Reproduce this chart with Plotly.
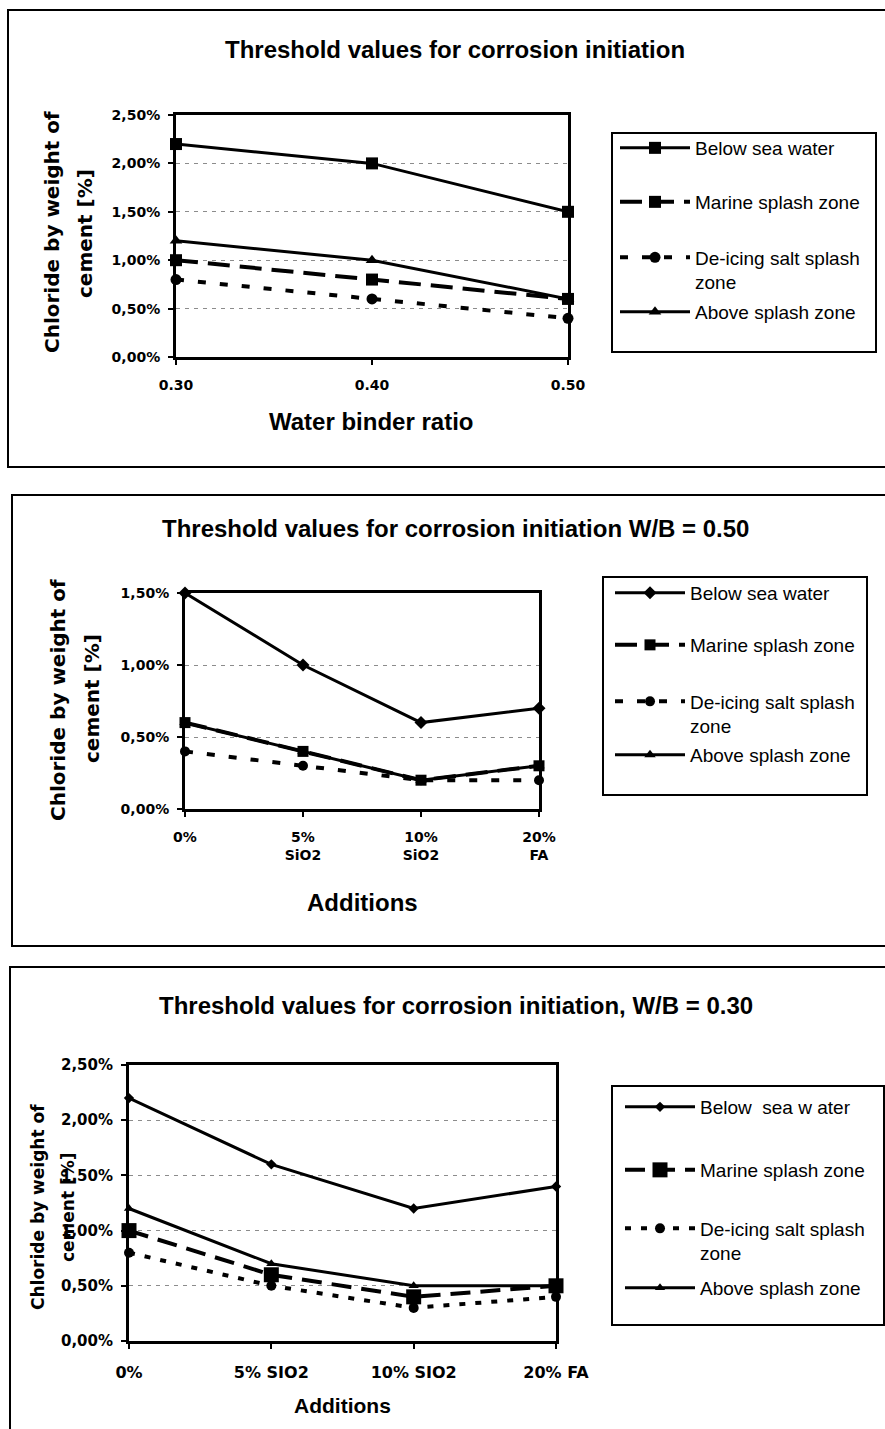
import plotly.graph_objects as go

W, H = 885, 1429


def px(x):
    return x / W


def py(y):
    return 1 - y / H


# ---------------- data (chloride threshold, fraction of cement weight) ----------------
series_names = ["Below sea water", "Marine splash zone",
                "De-icing salt splash<br>zone", "Above splash zone"]
series_names_p3 = ["Below  sea w ater", "Marine splash zone",
                   "De-icing salt splash<br>zone", "Above splash zone"]

wb_ratio = ["0.30", "0.40", "0.50"]
p1_below = [0.022, 0.020, 0.015]
p1_marine = [0.010, 0.008, 0.006]
p1_deicing = [0.008, 0.006, 0.004]
p1_above = [0.012, 0.010, 0.006]

additions_p2 = ["0%", "5%<br>SiO2", "10%<br>SiO2", "20%<br>FA"]
p2_below = [0.015, 0.010, 0.006, 0.007]
p2_marine = [0.006, 0.004, 0.002, 0.003]
p2_deicing = [0.004, 0.003, 0.002, 0.002]
p2_above = [0.006, 0.004, 0.002, 0.003]

additions_p3 = ["0%", "5% SIO2", "10% SIO2", "20% FA"]
p3_below = [0.022, 0.016, 0.012, 0.014]
p3_marine = [0.010, 0.006, 0.004, 0.005]
p3_deicing = [0.008, 0.005, 0.003, 0.004]
p3_above = [0.012, 0.007, 0.005, 0.005]

yticks_p1 = [0, 0.005, 0.010, 0.015, 0.020, 0.025]
yticks_p2 = [0, 0.005, 0.010, 0.015]
yticks_p3 = [0, 0.005, 0.010, 0.015, 0.020, 0.025]

titles = ["Threshold values for corrosion initiation",
          "Threshold values for corrosion initiation W/B = 0.50",
          "Threshold values for corrosion initiation, W/B = 0.30"]
x_titles = ["Water binder ratio", "Additions", "Additions"]
y_title_lines = ["Chloride by weight of", "cement [%]"]

# ---------------- styling ----------------
ARIAL = "Liberation Sans, Arial, sans-serif"
DEJAVU = "DejaVu Sans, Verdana, sans-serif"
LEG_ITEM_W = 70

panels = [
    dict(x=wb_ratio, ys=[p1_below, p1_marine, p1_deicing, p1_above], names=series_names,
         yticks=yticks_p1, yrange=[0, 0.025],
         plot=(176, 568, 115, 357),
         symbols=["square", "square", "circle", "triangle-up"], sizes=[12, 12, 11, 11],
         dashes=["solid", "22px,10px", "8px,14px", "solid"], widths=[3, 4, 4, 3],
         tickfs=14, xtickfs=14, title_y=50, title_x=455,
         yt=((52, 232), (85, 234)), ytfs=20, xt=(371, 422), xtfs=24,
         box=(612, 133, 876, 352), leg_text_x=695, leg_y=[148, 202, 270, 312],
         border=(8, 10, 895, 467), xstand=8),
    dict(x=additions_p2, ys=[p2_below, p2_marine, p2_deicing, p2_above], names=series_names,
         yticks=yticks_p2, yrange=[0, 0.015],
         plot=(185, 539, 593, 809),
         symbols=["diamond", "square", "circle", "triangle-up"], sizes=[10, 11, 10, 10],
         dashes=["solid", "22px,10px", "8px,14px", "solid"], widths=[3, 4, 4, 3],
         tickfs=14, xtickfs=14, title_y=528, title_x=455,
         yt=((58, 700), (92, 699)), ytfs=20, xt=(362, 902), xtfs=24,
         box=(603, 577, 867, 795), leg_text_x=690, leg_y=[593, 645, 714, 755],
         border=(12, 495, 895, 946), xstand=8),
    dict(x=additions_p3, ys=[p3_below, p3_marine, p3_deicing, p3_above], names=series_names_p3,
         yticks=yticks_p3, yrange=[0, 0.025],
         plot=(129, 556, 1065, 1341),
         symbols=["diamond", "square", "circle", "triangle-up"], sizes=[8, 15, 10, 9],
         dashes=["solid", "20px,10px", "6px,10px", "solid"], widths=[3, 4, 4, 3],
         tickfs=15, xtickfs=16, title_y=1005, title_x=456,
         yt=((38, 1207), (68, 1207)), ytfs=17, xt=(342, 1405), xtfs=21,
         box=(612, 1086, 884, 1325), leg_text_x=700, leg_y=[1107, 1170, 1241, 1288],
         border=(10, 967, 895, 1445), xstand=10),
]

fig = go.Figure()
layout = dict(
    width=W, height=H, margin=dict(l=0, r=0, t=0, b=0, pad=0, autoexpand=False),
    paper_bgcolor="white", plot_bgcolor="white",
    font=dict(family=ARIAL, color="black"),
    separators=",.",
    showlegend=True,
)
annotations = []
shapes = []

for i, p in enumerate(panels):
    n = i + 1
    xa = "x" if n == 1 else f"x{n}"
    ya = "y" if n == 1 else f"y{n}"
    xkey = "xaxis" if n == 1 else f"xaxis{n}"
    ykey = "yaxis" if n == 1 else f"yaxis{n}"
    x0, x1, ytop, ybot = p["plot"]

    for s in range(4):
        k = i * 4 + s + 1
        lg = "legend" if k == 1 else f"legend{k}"
        fig.add_trace(go.Scatter(
            x=p["x"], y=p["ys"][s], name=p["names"][s], mode="lines+markers",
            xaxis=xa, yaxis=ya, legend=lg, cliponaxis=False,
            line=dict(color="black", width=p["widths"][s], dash=p["dashes"][s]),
            marker=dict(symbol=p["symbols"][s], size=p["sizes"][s], color="black"),
        ))
        layout[lg] = dict(
            x=px(p["leg_text_x"] - LEG_ITEM_W - 10), y=py(p["leg_y"][s]),
            xanchor="left", yanchor="middle", valign="top",
            itemwidth=LEG_ITEM_W,
            bgcolor="rgba(0,0,0,0)", borderwidth=0,
            font=dict(family=ARIAL, size=19, color="black"),
        )

    layout[xkey] = dict(
        domain=[px(x0), px(x1)], anchor=ya, type="category",
        range=[0, len(p["x"]) - 1], showgrid=False, zeroline=False,
        showline=True, linecolor="black", linewidth=3, mirror=True,
        ticks="outside", ticklen=5, tickwidth=2, tickcolor="black",
        ticklabelstandoff=p["xstand"], automargin=False,
        tickfont=dict(family=DEJAVU, size=p["xtickfs"], color="black", weight="bold"),
        fixedrange=True,
    )
    layout[ykey] = dict(
        domain=[py(ybot), py(ytop)], anchor=xa, range=p["yrange"],
        tickvals=p["yticks"], tickformat=".2%",
        showgrid=True, gridcolor="#8c8c8c", griddash="4px,5px", gridwidth=1,
        zeroline=False, showline=True, linecolor="black", linewidth=3, mirror=True,
        ticks="outside", ticklen=5, tickwidth=2, tickcolor="black",
        ticklabelstandoff=5, automargin=False,
        tickfont=dict(family=DEJAVU, size=p["tickfs"], color="black", weight="bold"),
        fixedrange=True,
    )

    # titles
    annotations.append(dict(
        text=titles[i], x=px(p["title_x"]), y=py(p["title_y"]), xref="paper", yref="paper",
        xanchor="center", yanchor="middle", showarrow=False,
        font=dict(family=ARIAL, size=24, color="black", weight="bold")))
    annotations.append(dict(
        text=x_titles[i], x=px(p["xt"][0]), y=py(p["xt"][1]), xref="paper", yref="paper",
        xanchor="center", yanchor="middle", showarrow=False,
        font=dict(family=ARIAL, size=p["xtfs"], color="black", weight="bold")))
    for li, line in enumerate(y_title_lines):
        annotations.append(dict(
            text=line, x=px(p["yt"][li][0]), y=py(p["yt"][li][1]), xref="paper", yref="paper",
            xanchor="center", yanchor="middle", showarrow=False, textangle=-90,
            font=dict(family=DEJAVU, size=p["ytfs"], color="black", weight="bold")))

    bx0, by0, bx1, by1 = p["box"]
    shapes.append(dict(type="rect", xref="paper", yref="paper",
                       x0=px(bx0), x1=px(bx1), y0=py(by1), y1=py(by0),
                       line=dict(color="black", width=2)))
    ox0, oy0, ox1, oy1 = p["border"]
    shapes.append(dict(type="rect", xref="paper", yref="paper",
                       x0=px(ox0), x1=px(ox1), y0=py(oy1), y1=py(oy0),
                       line=dict(color="black", width=2)))

layout["annotations"] = annotations
layout["shapes"] = shapes
fig.update_layout(**layout)
fig.write_html(
    "out.html",
    config={"displayModeBar": False},
    post_script="document.body.style.margin='0';document.body.style.overflow='hidden';",
)
